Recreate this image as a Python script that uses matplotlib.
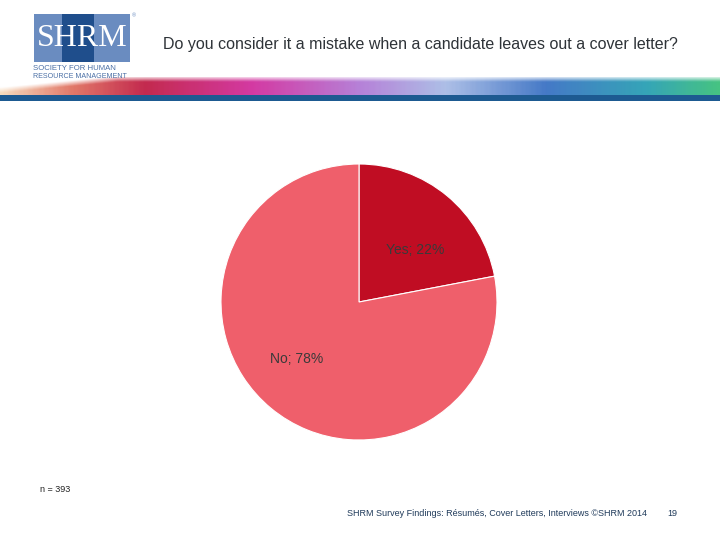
import numpy as np
import matplotlib.pyplot as plt
from matplotlib.colors import LinearSegmentedColormap
from matplotlib.patches import Rectangle

# survey data
labels = ['Yes', 'No']
shares = [22, 78]
colors = ['#C00D23', '#EF5F6B']
label_offsets = [(0.41, 0.38), (-0.45, -0.41)]  # label spots, in pie radius units

title = 'Do you consider it a mistake when a candidate leaves out a cover letter?'
sample_note = 'n = 393'
footer = 'SHRM Survey Findings: Résumés, Cover Letters, Interviews ©SHRM 2014'
page_no = '19'

plt.rcParams['font.family'] = ['Liberation Sans', 'DejaVu Sans']

W, H = 720, 540
fig = plt.figure(figsize=(7.2, 5.4), dpi=100)
fig.patch.set_facecolor('white')

# --- header: logo, swoosh banner, blue rule ---
bg = fig.add_axes([0, 0, 1, 1])
bg.set_xlim(0, W)
bg.set_ylim(H, 0)
bg.axis('off')

# logo box
bg.add_patch(Rectangle((34, 14), 96, 48, color='#6A8CC0', lw=0))
bg.add_patch(Rectangle((62, 14), 32, 48, color='#1F4E8C', lw=0))
bg.text(82, 39, 'SHRM', family='Liberation Serif', fontsize=23, color='white',
        ha='center', va='center')
bg.text(132, 16, '®', fontsize=4, color='#6A8CC0', ha='left', va='center')
bg.text(33, 68, 'SOCIETY FOR HUMAN', fontsize=5.6, color='#4A6FA5',
        ha='left', va='center')
bg.text(33, 76, 'RESOURCE MANAGEMENT', fontsize=5.1, color='#4A6FA5',
        ha='left', va='center')

# swoosh band
band = LinearSegmentedColormap.from_list('band', [
    (0.0, '#F7D8B8'), (0.1, '#E07060'), (0.2, '#C01E45'), (0.35, '#D22F9E'),
    (0.5, '#B27AD6'), (0.62, '#A9BCE6'), (0.76, '#3B72C4'),
    (0.9, '#2AA0B4'), (1.0, '#3CC07C')])
xs = np.linspace(0, 1, 400)
grad = band(np.tile(xs, (20, 1)))
yy = np.linspace(0, 1, 20)[:, None]
# taper band toward the left edge
alpha = np.clip((yy - (1 - np.clip(xs * 4.0 + 0.35, 0, 1))) * 3 + 0.25, 0, 1)
grad[..., 3] = alpha * 0.95
bg.imshow(grad, extent=(0, W, 95, 77), aspect='auto', interpolation='bilinear',
          zorder=1)
bg.add_patch(Rectangle((0, 95), W, 6, color='#1D5A91', lw=0, zorder=2))

bg.text(420, 45, title, fontsize=11.5, color='#2E3338', ha='center', va='center')

# footer
bg.text(40, 490, sample_note, fontsize=6.5, color='#222222', ha='left', va='center')
bg.text(497, 514, footer, fontsize=6.5, color='#1F3A5A', ha='center', va='center')
bg.text(672, 514, page_no, fontsize=6.5, color='#1F3A5A', ha='center', va='center')

# --- pie ---
cx, cy, r = 359, 302, 138
ax = fig.add_axes([(cx - r) / W, (H - cy - r) / H, 2 * r / W, 2 * r / H])
ax.pie(shares, colors=colors, startangle=90, counterclock=False,
       wedgeprops=dict(edgecolor='white', linewidth=0.8))
ax.set_xlim(-1.0, 1.0)
ax.set_ylim(-1.0, 1.0)
ax.set_aspect('auto')
for lab, val, (dx, dy) in zip(labels, shares, label_offsets):
    ax.text(dx, dy, f'{lab}; {val}%', fontsize=10, color='#3A3A3A',
            ha='center', va='center')

fig.savefig('out.png', dpi=100)
